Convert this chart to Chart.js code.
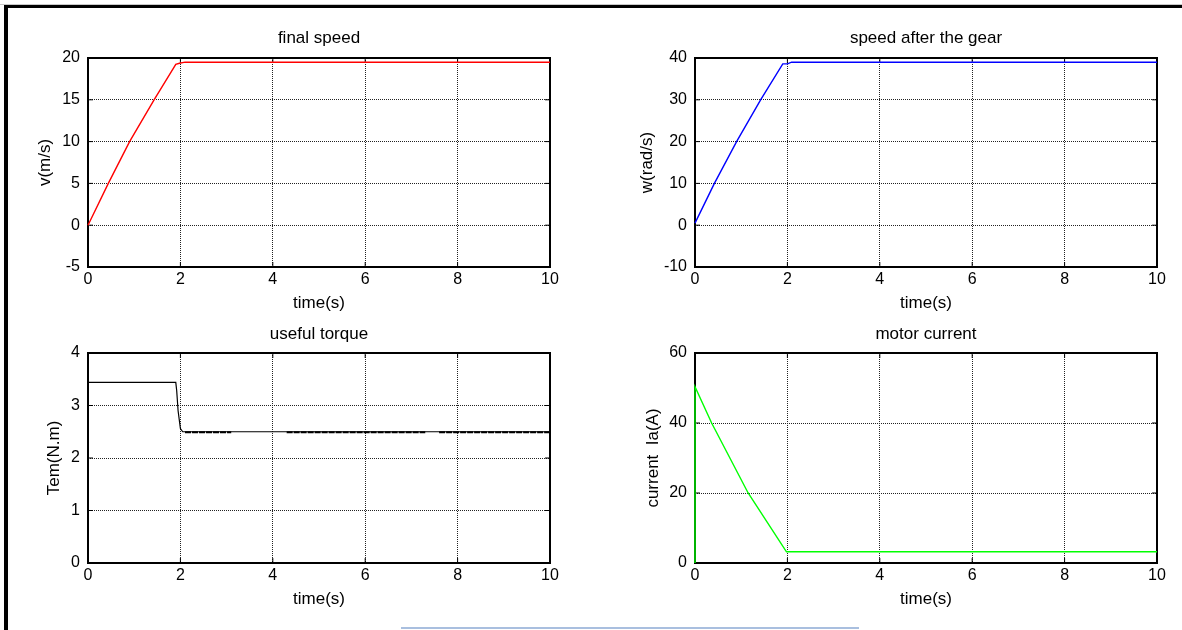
<!DOCTYPE html>
<html>
<head>
<meta charset="utf-8">
<script src="https://cdn.jsdelivr.net/npm/chart.js@4.4.1/dist/chart.umd.min.js"></script>
<style>
html, body { margin: 0; padding: 0; background: #fff; }
body { width: 1182px; height: 630px; position: relative; overflow: hidden; }
#edge { position: absolute; left: 0; top: 4px; width: 1182px; height: 1px; background: #c8c8c8; }
#frame { position: absolute; left: 4px; top: 5px; right: 0; bottom: 0; border-left: 4px solid #000; border-top: 3px solid #000; }
#bar { position: absolute; left: 401px; top: 627px; width: 458px; height: 2px; background: #a9bfdf; }
canvas { position: absolute; }
</style>
</head>
<body>
<div id="edge"></div>
<div id="frame"></div>
<div id="bar"></div>
<canvas id="speedChart" width="570" height="310" style="left:0;top:10px"></canvas>
<canvas id="gearChart" width="582" height="310" style="left:600px;top:10px"></canvas>
<canvas id="torqueChart" width="570" height="310" style="left:0;top:320px"></canvas>
<canvas id="currentChart" width="582" height="310" style="left:600px;top:320px"></canvas>
<script>
// ===========================
// DATA
// ===========================

const timeTicks = [0, 2, 4, 6, 8, 10];

// final speed v(m/s)
const speedTime = [0, 0.44, 0.9, 1.43, 1.9, 1.98, 2.1, 10];
const speedValues = [0, 5, 10, 15, 19.25, 19.37, 19.5, 19.5];
const speedTicks = [-5, 0, 5, 10, 15, 20];

// speed after the gear w(rad/s)
const gearTime = [0, 0.42, 0.9, 1.42, 1.9, 2.0, 2.09, 10];
const gearValues = [0.5, 10, 20, 30, 38.6, 38.6, 39, 39];
const gearTicks = [-10, 0, 10, 20, 30, 40];

// useful torque Tem(N.m)
const torqueTime = [0, 1.9, 1.92, 1.95, 2.0, 2.05, 10];
const torqueValues = [3.44, 3.44, 3.28, 2.9, 2.56, 2.5, 2.5];
// parts of the torque trace where the ripple makes it look thicker
const rippleTime = [2.1, 3.1, 3.1, 4.3, 7.3, 7.3, 7.6, 10];
const rippleValues = [2.49, 2.49, null, 2.49, 2.49, null, 2.49, 2.49];
const torqueTicks = [0, 1, 2, 3, 4];

// motor current Ia(A)
const currentTime = [0, 0, 0.36, 1.15, 1.98, 10];
const currentValues = [0, 50.4, 40, 20, 3.2, 3.2];
const currentTicks = [0, 20, 40, 60];

// ===========================
// HELPERS
// ===========================

const FONT = "'Liberation Sans', Arial, Helvetica, sans-serif";

function points(xs, ys) {
    return xs.map((x, i) => ({ x: x, y: ys[i] }));
}

// MATLAB style box with inward tick marks (drawn under the traces)
const axesBox = {
    id: "axesBox",
    beforeDatasetsDraw(chart) {
        const ctx = chart.ctx;
        const a = chart.chartArea;
        const sx = chart.scales.x;
        const sy = chart.scales.y;
        ctx.save();
        ctx.strokeStyle = "#000";
        ctx.lineWidth = 1;
        ctx.beginPath();
        sx.ticks.forEach(t => {
            const px = sx.getPixelForValue(t.value);
            ctx.moveTo(px, a.bottom); ctx.lineTo(px, a.bottom - 5);
            ctx.moveTo(px, a.top); ctx.lineTo(px, a.top + 5);
        });
        sy.ticks.forEach(t => {
            const py = sy.getPixelForValue(t.value);
            ctx.moveTo(a.left, py); ctx.lineTo(a.left + 5, py);
            ctx.moveTo(a.right, py); ctx.lineTo(a.right - 5, py);
        });
        ctx.stroke();
        ctx.lineWidth = 2;
        ctx.strokeRect(a.left, a.top, a.right - a.left, a.bottom - a.top);
        ctx.restore();
    }
};

function subplot(id, title, yLabel, yTicks, datasets, box) {

    const tickFont = { family: FONT, size: 16 };
    const labelFont = { family: FONT, size: 17, lineHeight: 1.2 };

    return new Chart(document.getElementById(id), {

        type: "line",

        data: { datasets: datasets },

        options: {
            responsive: false,
            animation: false,
            devicePixelRatio: 1,
            layout: { padding: { left: 0, right: box.right, top: 0, bottom: 0 } },
            elements: { point: { radius: 0 }, line: { tension: 0 } },
            plugins: {
                legend: { display: false },
                tooltip: { enabled: false },
                title: {
                    display: true,
                    text: title,
                    fullSize: false,
                    color: "#000",
                    font: { family: FONT, size: 17, weight: "normal", lineHeight: 1.2 },
                    padding: { top: box.titleTop, bottom: box.titleBottom }
                }
            },
            scales: {
                x: {
                    type: "linear",
                    min: timeTicks[0],
                    max: timeTicks[timeTicks.length - 1],
                    afterBuildTicks: s => { s.ticks = timeTicks.map(v => ({ value: v })); },
                    afterFit: s => { s.height = box.xHeight; },
                    ticks: { color: "#000", font: tickFont, padding: 3, maxRotation: 0 },
                    grid: { color: "#222", lineWidth: 1, drawTicks: false },
                    border: { display: false, dash: [1, 1] },
                    title: {
                        display: true, text: "time(s)", color: "#000", font: labelFont,
                        padding: { top: 0, bottom: box.xTitle }
                    }
                },
                y: {
                    type: "linear",
                    min: yTicks[0],
                    max: yTicks[yTicks.length - 1],
                    afterBuildTicks: s => { s.ticks = yTicks.map(v => ({ value: v })); },
                    afterFit: s => { s.width = box.yWidth; },
                    ticks: { color: "#000", font: tickFont, padding: 8 },
                    grid: { color: "#222", lineWidth: 1, drawTicks: false },
                    border: { display: false, dash: [1, 1] },
                    title: {
                        display: true, text: yLabel, color: "#000", font: labelFont,
                        padding: { top: box.yTitle, bottom: 0 }
                    }
                }
            }
        },

        plugins: [axesBox]
    });
}

// ===========================
// CHARTS
// ===========================

const topBox = { titleTop: 17.8, titleBottom: 9.8, xHeight: 53, xTitle: 6.8 };
const bottomBox = { titleTop: 3.8, titleBottom: 8.8, xHeight: 67, xTitle: 20.8 };

subplot("speedChart", "final speed", "v(m/s)", speedTicks, [{
    data: points(speedTime, speedValues),
    borderColor: "#ff0000",
    borderWidth: 1.4,
    clip: 2
}], Object.assign({ right: 20, yWidth: 88, yTitle: 35 }, topBox));

subplot("gearChart", "speed after the gear", "w(rad/s)", gearTicks, [{
    data: points(gearTime, gearValues),
    borderColor: "#0000ff",
    borderWidth: 1.4,
    clip: 2
}], Object.assign({ right: 25, yWidth: 95, yTitle: 37.3 }, topBox));

subplot("torqueChart", "useful torque", "Tem(N.m)", torqueTicks, [{
    data: points(torqueTime, torqueValues),
    borderColor: "#000000",
    borderWidth: 1.2
}, {
    data: points(rippleTime, rippleValues),
    borderColor: "#000000",
    borderWidth: 2,
    borderDash: [6, 1]
}], Object.assign({ right: 20, yWidth: 88, yTitle: 43.8 }, bottomBox));

subplot("currentChart", "motor current", "current  Ia(A)", currentTicks, [{
    data: points(currentTime, currentValues),
    borderColor: "#00ff00",
    borderWidth: 1.4,
    clip: 2
}], Object.assign({ right: 25, yWidth: 95, yTitle: 42.8 }, bottomBox));
</script>
</body>
</html>
